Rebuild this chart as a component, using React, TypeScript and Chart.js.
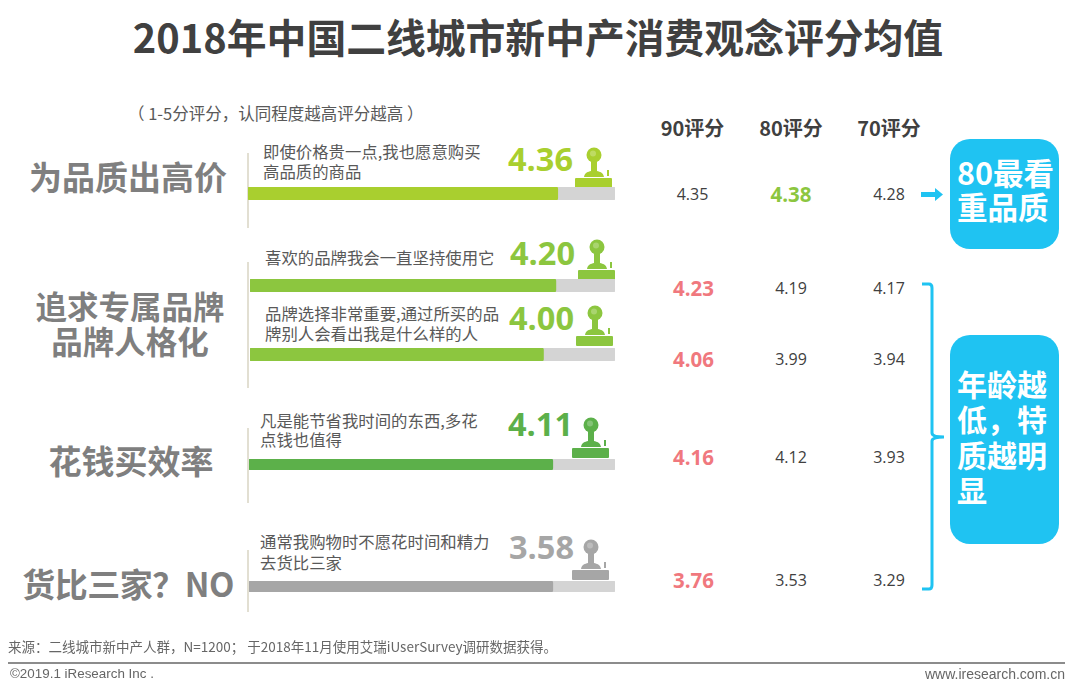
import React, { useEffect, useRef } from "react";
import { Chart, registerables } from "chart.js";

Chart.register(...registerables);

const CJK = '"Noto Sans CJK SC", "Noto Sans", sans-serif';
const LATIN = '"Open Sans", "Noto Sans CJK SC", sans-serif';

// ---- data ----
const title = "2018年中国二线城市新中产消费观念评分均值";
const note = "（ 1-5分评分，认同程度越高评分越高 ）";
const statementLines = [
  ["即使价格贵一点,我也愿意购买", "高品质的商品"],
  ["喜欢的品牌我会一直坚持使用它"],
  ["品牌选择非常重要,通过所买的品", "牌别人会看出我是什么样的人"],
  ["凡是能节省我时间的东西,多花", "点钱也值得"],
  ["通常我购物时不愿花时间和精力", "去货比三家"],
];
const overallLabels = ["4.36", "4.20", "4.00", "4.11", "3.58"];
// drawn lengths of the bars, on the 0-5 track (as measured; they differ from the printed score)
const barValues = [4.22, 4.19, 4.02, 4.15, 4.15];
const trackValues = [5, 5, 5, 5, 5];
const columnHeads = ["90评分", "80评分", "70评分"];
const scores90 = ["4.35", "4.23", "4.06", "4.16", "3.76"];
const scores80 = ["4.38", "4.19", "3.99", "4.12", "3.53"];
const scores70 = ["4.28", "4.17", "3.94", "3.93", "3.29"];
const highlightCol = [1, 0, 0, 0, 0];
const themeA = ["为品质出高价"];
const themeB = ["追求专属品牌", "品牌人格化"];
const themeC = ["花钱买效率"];
const themeD = ["货比三家？NO"];
const conclusionA = ["80最看", "重品质"];
const conclusionB = ["年龄越", "低，特", "质越明", "显"];
const source = "来源：二线城市新中产人群，N=1200； 于2018年11月使用艾瑞iUserSurvey调研数据获得。";
const copyright = "©2019.1 iResearch Inc .";
const site = "www.iresearch.com.cn";

// ---- layout & style ----
const rowColors = ["#a9cf2f", "#8cc63f", "#8cc63f", "#5cb04a", "#a6a6a6"];
const trackColor = "#d4d4d4";
const barBoxes = [
  { left: 248, top: 187, width: 367, height: 13 },
  { left: 250, top: 279, width: 365, height: 13 },
  { left: 250, top: 348, width: 365, height: 13 },
  { left: 249, top: 459, width: 366, height: 11 },
  { left: 249, top: 581, width: 366, height: 11 },
];
const rowTextX = [263, 265, 265, 260, 260];
const rowTextY = [151, 257, 313, 420, 541];
const rowTextGap = [20, 20, 20, 19, 21];
const bigX = [508, 510, 509, 508, 509];
const bigY = [159, 253, 318, 424, 547];
const stampX = [575, 578, 576, 572, 572];
const stampY = [146, 238, 304, 416, 538];
const tableY = [194, 288, 359, 457, 580];
const tableX = [692.5, 791, 889];
const ruleBoxes = [
  { x: 247, y1: 153, y2: 228 },
  { x: 247, y1: 262, y2: 388 },
  { x: 247, y1: 428, y2: 503 },
  { x: 247, y1: 550, y2: 612 },
];
const BLUE = "#1fc3f2";

type TextProps = {
  x: number; y: number; size: number; color: string; weight?: number;
  font?: string; anchor?: "start" | "middle" | "end"; children: React.ReactNode; spacing?: number;
};
function Label({ x, y, size, color, weight = 400, font = CJK, anchor = "start", children, spacing = 0 }: TextProps) {
  const tx = anchor === "middle" ? "-50%" : anchor === "end" ? "-100%" : "0";
  return (
    <div
      style={{
        position: "absolute", left: x, top: y, transform: `translate(${tx}, -50%)`,
        fontFamily: font, fontSize: size, fontWeight: weight, color, whiteSpace: "nowrap",
        lineHeight: 1, letterSpacing: spacing,
      }}
    >
      {children}
    </div>
  );
}

// One text element of several lines; firstY is the centre of its first line.
type BlockProps = {
  x: number; firstY: number; gap: number; size: number; color: string; weight?: number;
  center?: boolean; lines: string[]; spacing?: number;
};
function Block({ x, firstY, gap, size, color, weight = 400, center = false, lines, spacing = 0 }: BlockProps) {
  return (
    <div
      style={{
        position: "absolute", left: x, top: firstY - gap / 2,
        transform: center ? "translateX(-50%)" : undefined, textAlign: center ? "center" : "left",
        fontFamily: CJK, fontSize: size, fontWeight: weight, color, whiteSpace: "nowrap",
        lineHeight: `${gap}px`, letterSpacing: spacing,
      }}
    >
      {lines.map((t, i) => (
        <React.Fragment key={i}>
          {i > 0 && <br />}
          {t}
        </React.Fragment>
      ))}
    </div>
  );
}

function ScoreBar({ index }: { index: number }) {
  const ref = useRef<HTMLCanvasElement>(null);
  const box = barBoxes[index];
  useEffect(() => {
    const chart = new Chart(ref.current!, {
      type: "bar",
      data: {
        labels: [statementLines[index].join("")],
        datasets: [
          { data: [barValues[index]], backgroundColor: rowColors[index], order: 1, borderRadius: 2, borderSkipped: false },
          { data: [trackValues[index]], backgroundColor: trackColor, order: 2, borderRadius: 2, borderSkipped: false },
        ],
      },
      options: {
        indexAxis: "y",
        responsive: false,
        animation: false,
        layout: { padding: 0 },
        datasets: { bar: { grouped: false, barPercentage: 1, categoryPercentage: 1 } },
        plugins: { legend: { display: false }, tooltip: { enabled: false } },
        scales: {
          x: { display: false, min: 0, max: 5 },
          y: { display: false },
        },
      },
    });
    return () => chart.destroy();
  }, [index]);
  return (
    <canvas
      ref={ref}
      width={box.width}
      height={box.height}
      style={{ position: "absolute", left: box.left, top: box.top, width: box.width, height: box.height }}
    />
  );
}

function Stamp({ x, y, color }: { x: number; y: number; color: string }) {
  return (
    <svg style={{ position: "absolute", left: x, top: y }} width={38} height={43} viewBox="0 0 38 43">
      <rect x="0" y="32" width="37" height="10" rx="1" fill={color} />
      <path d="M9 31 C10 26 13 26 16 25 L16 16 L22 16 L22 25 C25 26 28 26 29 31 Z" fill={color} />
      <circle cx="19" cy="9" r="7.5" fill={color} />
      <circle cx="18" cy="7.5" r="3" fill="#ffffff" opacity="0.25" />
      <rect x="32" y="24" width="2" height="6" fill={color} />
    </svg>
  );
}

export default function App() {
  const grey = "#7f7f7f";
  return (
    <div style={{ position: "absolute", left: 0, top: 0, width: 1080, height: 690, background: "#fff", overflow: "hidden" }}>
      <Label x={538} y={36} size={39.8} weight={700} color="#404040" anchor="middle">{title}</Label>
      <Label x={128} y={113} size={16.5} color="#595959">{note}</Label>

      <Block x={128} firstY={176.5} gap={35} size={33} weight={700} color={grey} center lines={themeA} />
      <Block x={130} firstY={305} gap={35} size={31.5} weight={700} color={grey} center lines={themeB} />
      <Block x={131} firstY={460.5} gap={35} size={33} weight={700} color={grey} center lines={themeC} />
      <Block x={128} firstY={583} gap={35} size={33} weight={700} color={grey} center spacing={-0.5} lines={themeD} />

      {ruleBoxes.map((r, i) => (
        <div key={i} style={{ position: "absolute", left: r.x, top: r.y1, width: 2, height: r.y2 - r.y1, background: "#e2dfd2" }} />
      ))}

      {statementLines.map((lines, i) => (
        <React.Fragment key={i}>
          <Block x={rowTextX[i]} firstY={rowTextY[i]} gap={rowTextGap[i]} size={16.4} color="#595959" lines={lines} />
          <Label x={bigX[i]} y={bigY[i]} size={32.5} weight={700} color={rowColors[i]} font={LATIN}>{overallLabels[i]}</Label>
          <Stamp x={stampX[i]} y={stampY[i]} color={rowColors[i]} />
          <ScoreBar index={i} />
        </React.Fragment>
      ))}

      {columnHeads.map((h, i) => (
        <Label key={h} x={tableX[i]} y={127.5} size={20} weight={700} color="#404040" anchor="middle">{h}</Label>
      ))}
      {[scores90, scores80, scores70].map((col, c) =>
        col.map((v, r) => {
          const hi = highlightCol[r] === c && c < 2 && (c === 1 || r > 0);
          return (
            <Label
              key={`${c}-${r}`} x={tableX[c] + (hi && c === 0 ? 1 : 0)} y={tableY[r]} size={hi ? 20.5 : 16} weight={hi ? 700 : 400}
              color={hi ? (r === 0 ? "#8cc63f" : "#f0787e") : "#404040"} font={LATIN} anchor="middle"
            >
              {v}
            </Label>
          );
        })
      )}

      <div style={{ position: "absolute", left: 950, top: 139, width: 109, height: 110, borderRadius: 20, background: BLUE }} />
      <Block x={957} firstY={172} gap={34} size={30.5} weight={700} color="#fff" lines={conclusionA} />
      <div style={{ position: "absolute", left: 950, top: 335, width: 109, height: 209, borderRadius: 20, background: BLUE }} />
      <Block x={957} firstY={383.5} gap={35.5} size={30} weight={700} color="#fff" lines={conclusionB} />

      <svg style={{ position: "absolute", left: 0, top: 0 }} width={1080} height={690}>
        <path d="M921 192 H935 V188 L943 194.5 L935 201 V197 H921 Z" fill={BLUE} />
        <path
          d="M922 284 H929 Q932 284 932 288 V433 Q932 437 944 437 Q932 437 932 441 V585 Q932 589 929 589 H922"
          fill="none" stroke={BLUE} strokeWidth={3}
        />
      </svg>

      <Label x={8} y={646.5} size={13.5} color="#666">{source}</Label>
      <div style={{ position: "absolute", left: 8, top: 662, width: 1057, height: 2, background: "#8c8c8c" }} />
      <Label x={10} y={674} size={13.4} color="#666" font='"Liberation Sans", sans-serif'>{copyright}</Label>
      <Label x={1065} y={674} size={14} color="#666" font='"Liberation Sans", sans-serif' anchor="end">{site}</Label>
    </div>
  );
}
